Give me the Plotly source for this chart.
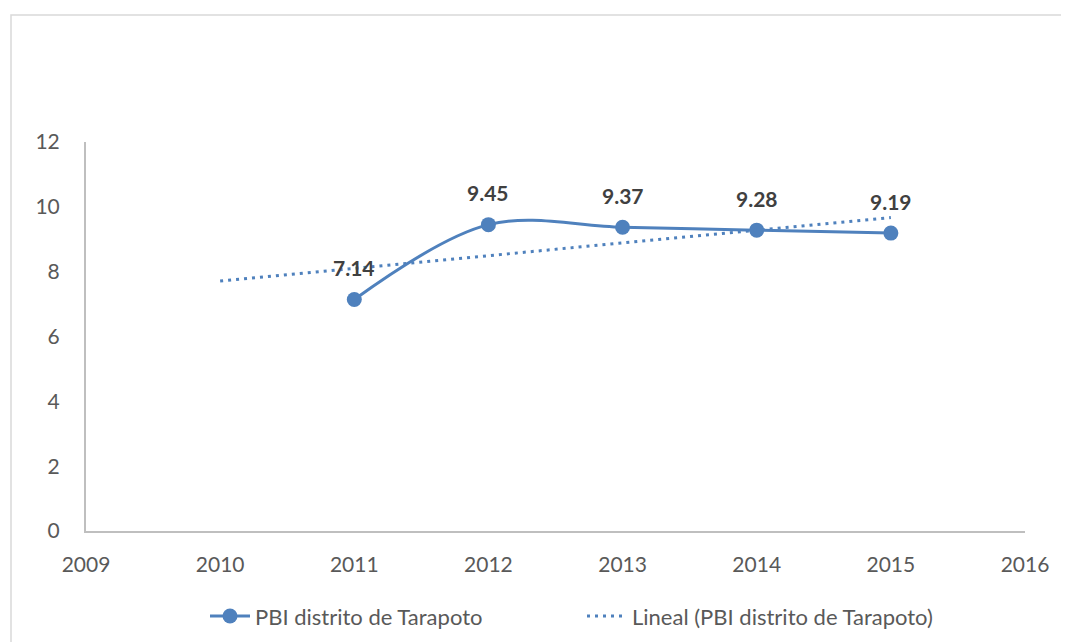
import plotly.graph_objects as go

years = [2011, 2012, 2013, 2014, 2015]
pbi = [7.14, 9.45, 9.37, 9.28, 9.19]
labels = ["7.14", "9.45", "9.37", "9.28", "9.19"]
trend_years = [2010, 2015]
trend_values = [7.71, 9.67]
x_ticks = [2009, 2010, 2011, 2012, 2013, 2014, 2015, 2016]
y_ticks = [0, 2, 4, 6, 8, 10, 12]

BLUE = "#4F81BD"
FONT = "Lato, 'Open Sans', sans-serif"

L, T, W, H = 78, 134, 939, 389

fig = go.Figure()
fig.add_trace(go.Scatter(
    x=years, y=pbi, mode="lines+markers", name="PBI distrito de Tarapoto",
    line=dict(color=BLUE, width=3, shape="spline", smoothing=1.0),
    marker=dict(color=BLUE, size=15),
))
fig.add_trace(go.Scatter(
    x=trend_years, y=trend_values, mode="lines", name="Lineal (PBI distrito de Tarapoto)",
    line=dict(color=BLUE, width=3, dash="3px,5px"),
))

for xv, yv, t in zip(years, pbi, labels):
    fig.add_annotation(x=xv, y=yv, text="<b>" + t + "</b>", showarrow=False,
                       yshift=32, font=dict(family=FONT, size=21, color="#404040"))

fig.add_shape(type="rect", xref="paper", yref="paper",
              x0=(3 - L) / W, x1=(1080 - L) / W,
              y0=(T + H - 660) / H, y1=(T + H - 7) / H,
              line=dict(color="#D9D9D9", width=1.5), fillcolor="rgba(0,0,0,0)", layer="below")

fig.update_layout(
    width=1069, height=642,
    margin=dict(l=L, r=1069 - L - W, t=T, b=642 - T - H),
    paper_bgcolor="white", plot_bgcolor="white",
    font=dict(family=FONT, size=21, color="#595959"),
    showlegend=True,
    legend=dict(orientation="h", x=(574 - L) / W, xanchor="center", y=-0.165, yanchor="top",
                font=dict(family=FONT, size=22, color="#595959"), itemwidth=40,
                entrywidth=322, traceorder="normal"),
)
fig.update_xaxes(range=[2009, 2016], tickvals=x_ticks, ticktext=[str(v) for v in x_ticks],
                 showgrid=False, zeroline=False, showline=True, linecolor="#BFBFBF", linewidth=2,
                 ticks="", ticklabelstandoff=14)
fig.update_yaxes(range=[0, 12], tickvals=y_ticks, showgrid=False, zeroline=False,
                 showline=True, linecolor="#BFBFBF", linewidth=2, ticks="", ticklabelstandoff=20)

fig.write_html("out.html")
